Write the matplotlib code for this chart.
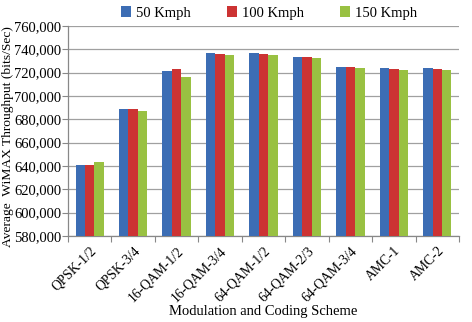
import matplotlib
matplotlib.use("Agg")
import matplotlib.pyplot as plt
import numpy as np
from matplotlib.ticker import FuncFormatter, FixedLocator

categories = ["QPSK-1/2", "QPSK-3/4", "16-QAM-1/2", "16-QAM-3/4", "64-QAM-1/2",
              "64-QAM-2/3", "64-QAM-3/4", "AMC-1", "AMC-2"]
series_names = ["50 Kmph", "100 Kmph", "150 Kmph"]
v50 = [641000, 688500, 721400, 737200, 737200, 733700, 724900, 723800, 723800]
v100 = [641000, 688500, 722800, 736300, 736300, 733700, 724900, 723000, 723000]
v150 = [643300, 687400, 716300, 735200, 735200, 732900, 723700, 721900, 721900]
colors = ["#3C6DB4", "#CC3333", "#99C142"]

plt.rcParams['font.family'] = ['Liberation Serif', 'DejaVu Serif']
fig = plt.figure(figsize=(4.72, 3.22), dpi=100)
ax = fig.add_axes([68/472, 1-236/322, 391/472, 210/322])

x = np.arange(len(categories))
w = 0.217
handles = []
for i, (vals, c) in enumerate(zip([v50, v100, v150], colors)):
    b = ax.bar(x + (i-1)*w, vals, width=w, color=c, zorder=3, label=series_names[i])
    handles.append(b)

ax.set_xlim(-0.5, len(categories)-0.5)
ax.set_ylim(580000, 760000)
ax.set_yticks(np.arange(580000, 760001, 20000))
ax.yaxis.set_major_formatter(FuncFormatter(lambda v, p: f"{int(v):,}"))
ax.yaxis.grid(True, color="#A0A0A0", linewidth=0.9, zorder=0)
ax.set_axisbelow(True)

ax.set_xticks(x)
ax.set_xticklabels(categories, rotation=45, ha='right', rotation_mode='anchor', fontsize=9.8)
ax.tick_params(axis='x', which='major', length=0, pad=6)
ax.xaxis.set_minor_locator(FixedLocator(np.arange(-0.5, len(categories), 1.0)))
ax.tick_params(axis='x', which='minor', length=4, color="#888888", width=0.8)
ax.tick_params(axis='y', length=4, color="#888888", width=0.8, labelsize=10.5, pad=1)

for s in ['top', 'right']:
    ax.spines[s].set_visible(False)
for s in ['left', 'bottom']:
    ax.spines[s].set_color("#888888")
    ax.spines[s].set_linewidth(0.9)

ax.set_ylabel("Average  WiMAX Throughput (bits/Sec)", fontsize=9.7)
ax.yaxis.set_label_coords(-0.137, 0.475)
ax.set_xlabel("Modulation and Coding Scheme", fontsize=10.5)
ax.xaxis.set_label_coords(0.5, -0.33)

fig.legend(handles=handles, labels=series_names, loc='center', ncol=3,
           bbox_to_anchor=(269/472, 1-13/322), frameon=False, fontsize=10.5,
           handlelength=0.7, handleheight=0.7, handletextpad=0.3, columnspacing=2.5)

fig.savefig("out.png", dpi=100)
